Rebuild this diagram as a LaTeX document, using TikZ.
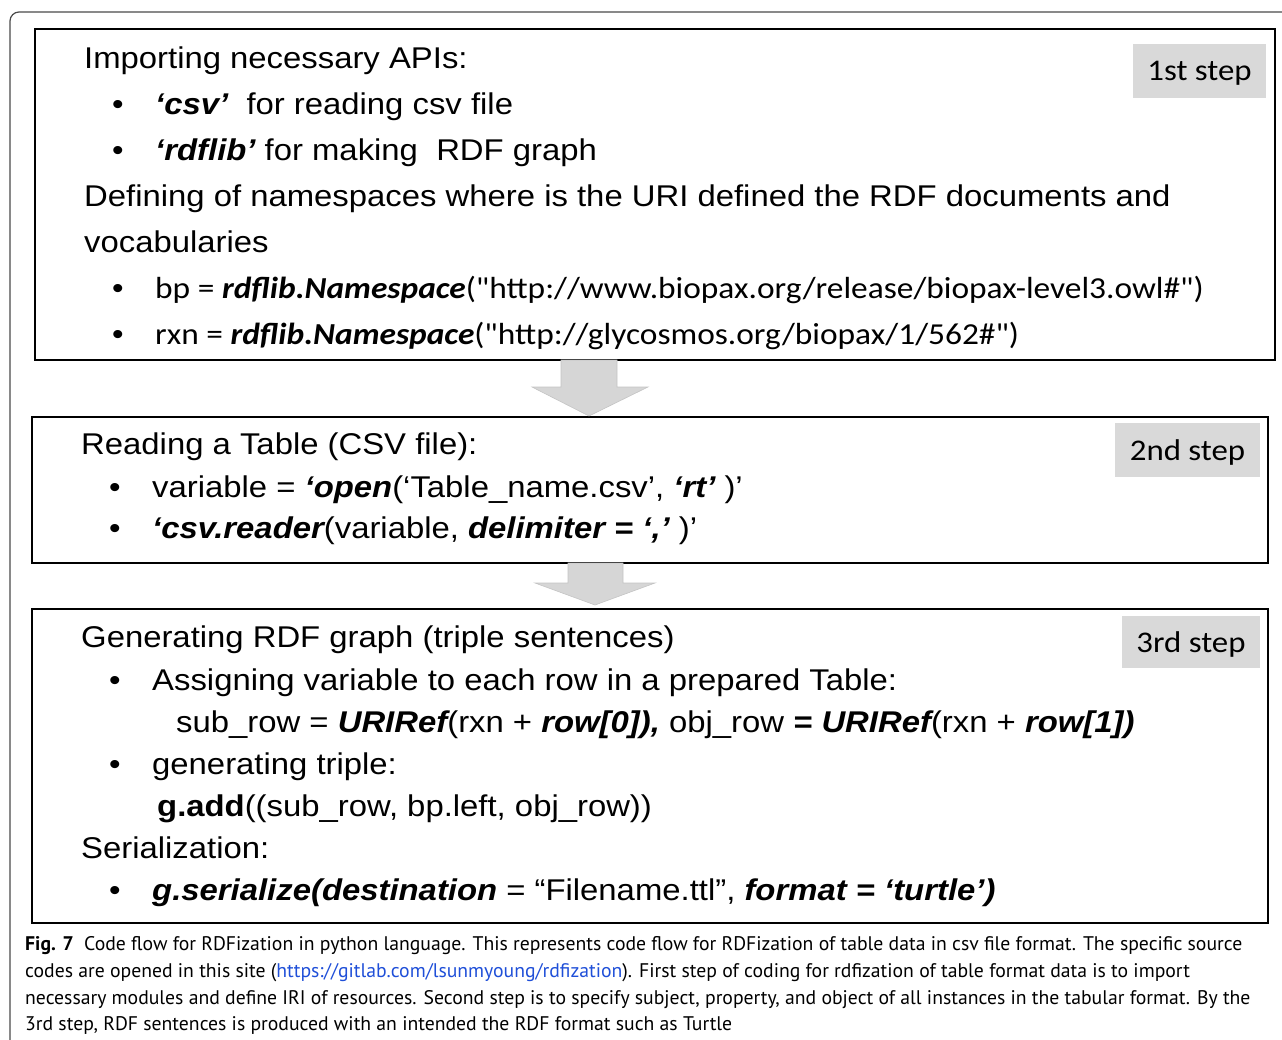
\documentclass[tikz,border=0pt]{standalone}
\usepackage{fontspec}
\setmainfont{Liberation Sans}
\newfontfamily\dfont[FakeStretch=1.095]{Liberation Sans}
\newfontfamily\calfont[FakeStretch=1.095]{Carlito}
\newfontfamily\capfont{PT Sans}
\definecolor{stepgray}{HTML}{D9D9D9}
\definecolor{arrowgray}{HTML}{D6D6D6}
\definecolor{arrowedge}{HTML}{C4C4C4}
\definecolor{linkblue}{HTML}{1F4FD8}
\definecolor{framegray}{HTML}{4A4A4A}
\newcommand{\bi}[1]{{\bfseries\itshape #1}}
\begin{document}
\begin{tikzpicture}[x=1pt,y=-1pt,
  stepbox/.style={draw=black, line width=1.6pt, anchor=north west, inner sep=0pt},
  steptag/.style={fill=stepgray, inner sep=0pt, text depth=0pt, font=\calfont\fontsize{30}{36}\selectfont},
  txt/.style={anchor=base west, inner sep=0pt, font=\dfont\fontsize{30}{36}\selectfont},
  caltxt/.style={anchor=base west, inner sep=0pt, font=\calfont\fontsize{30.5}{36}\selectfont},
  bul/.style={anchor=base west, inner sep=0pt, font=\dfont\fontsize{30}{36}\selectfont},
  captxt/.style={anchor=base west, inner sep=0pt, font=\capfont\fontsize{19.7}{24}\selectfont},
  blockarrow/.style={fill=arrowgray, draw=arrowedge, line width=0.6pt}]
\useasboundingbox (0,0) rectangle (1282,1039);

% outer figure frame
\draw[framegray, line width=1.2pt, rounded corners=9pt] (10,1045) -- (10,12) -- (1290,12);

% three step boxes
\node[stepbox, minimum width=1240pt, minimum height=331pt] (box1) at (34,28) {};
\node[stepbox, minimum width=1236pt, minimum height=146pt] (box2) at (31,416) {};
\node[stepbox, minimum width=1236pt, minimum height=314pt] (box3) at (31,608) {};

% step tags
\node[steptag, minimum width=133pt, minimum height=54pt] (tag1) at (1199.5,71) {1st step};
\node[steptag, minimum width=145pt, minimum height=54pt] (tag2) at (1187.5,450) {2nd step};
\node[steptag, minimum width=138pt, minimum height=52pt] (tag3) at (1191,642) {3rd step};

% block arrows between the boxes
\draw[blockarrow] (561,360) -- (617,360) -- (617,387) -- (648,387) -- (589,416)
  -- (532,387) -- (561,387) -- cycle;
\draw[blockarrow] (568,563) -- (623,563) -- (623,583) -- (655,583) -- (595,605)
  -- (535,583) -- (568,583) -- cycle;

% first box
\node[txt] (l11) at (84,68) {Importing necessary APIs:};
\node[bul] (b12) at (112,114) {•};
\node[txt] (l12) at (155,114) {\bi{‘csv’}\ \ for reading csv file};
\node[bul] (b13) at (112,160) {•};
\node[txt] (l13) at (155,160) {\bi{‘rdflib’} for making\ \ RDF graph};
\node[txt] (l14) at (84,206) {Defining of namespaces where is the URI defined the RDF documents and};
\node[txt] (l15) at (84,252) {vocabularies};
\node[bul] (b16) at (112,298) {•};
\node[caltxt] (l16) at (155,298) {bp = \bi{rdflib.Namespace}("http://www.biopax.org/release/biopax-level3.owl\#")};
\node[bul] (b17) at (112,344) {•};
\node[caltxt] (l17) at (155,344) {rxn = \bi{rdflib.Namespace}("http://glycosmos.org/biopax/1/562\#")};

% second box
\node[txt] (l21) at (81,454) {Reading a Table (CSV file):};
\node[bul] (b22) at (109,497) {•};
\node[txt] (l22) at (152,497) {variable = \bi{‘open}(‘Table\_name.csv’, \bi{‘rt’} )’};
\node[bul] (b23) at (109,538) {•};
\node[txt] (l23) at (152,538) {\bi{‘csv.reader}(variable, \bi{delimiter = ‘,’} )’};

% third box
\node[txt] (l31) at (81,647) {Generating RDF graph (triple sentences)};
\node[bul] (b32) at (109,690) {•};
\node[txt] (l32) at (152,690) {Assigning variable to each row in a prepared Table:};
\node[txt] (l33) at (176,732) {sub\_row = \bi{URIRef}(rxn + \bi{row[0]),} obj\_row \bi{= URIRef}(rxn + \bi{row[1])}};
\node[bul] (b34) at (109,774) {•};
\node[txt] (l34) at (152,774) {generating triple:};
\node[txt] (l35) at (157,816) {\textbf{g.add}((sub\_row, bp.left, obj\_row))};
\node[txt] (l36) at (81,858) {Serialization:};
\node[bul] (b37) at (109,900) {•};
\node[txt] (l37) at (152,900) {\bi{g.serialize(destination} = “Filename.ttl”, \bi{format = ‘turtle’)}};

% caption
\node[captxt] (c1) at (25,950) {\textbf{Fig. 7}\ \ Code flow for RDFization in python language. This represents code flow for RDFization of table data in csv file format. The specific source};
\node[captxt] (c2) at (25,977) {codes are opened in this site (\textcolor{linkblue}{https://gitlab.com/lsunmyoung/rdfization}). First step of coding for rdfization of table format data is to import};
\node[captxt] (c3) at (25,1004) {necessary modules and define IRI of resources. Second step is to specify subject, property, and object of all instances in the tabular format. By the};
\node[captxt] (c4) at (25,1030) {3rd step, RDF sentences is produced with an intended the RDF format such as Turtle};
\end{tikzpicture}
\end{document}
